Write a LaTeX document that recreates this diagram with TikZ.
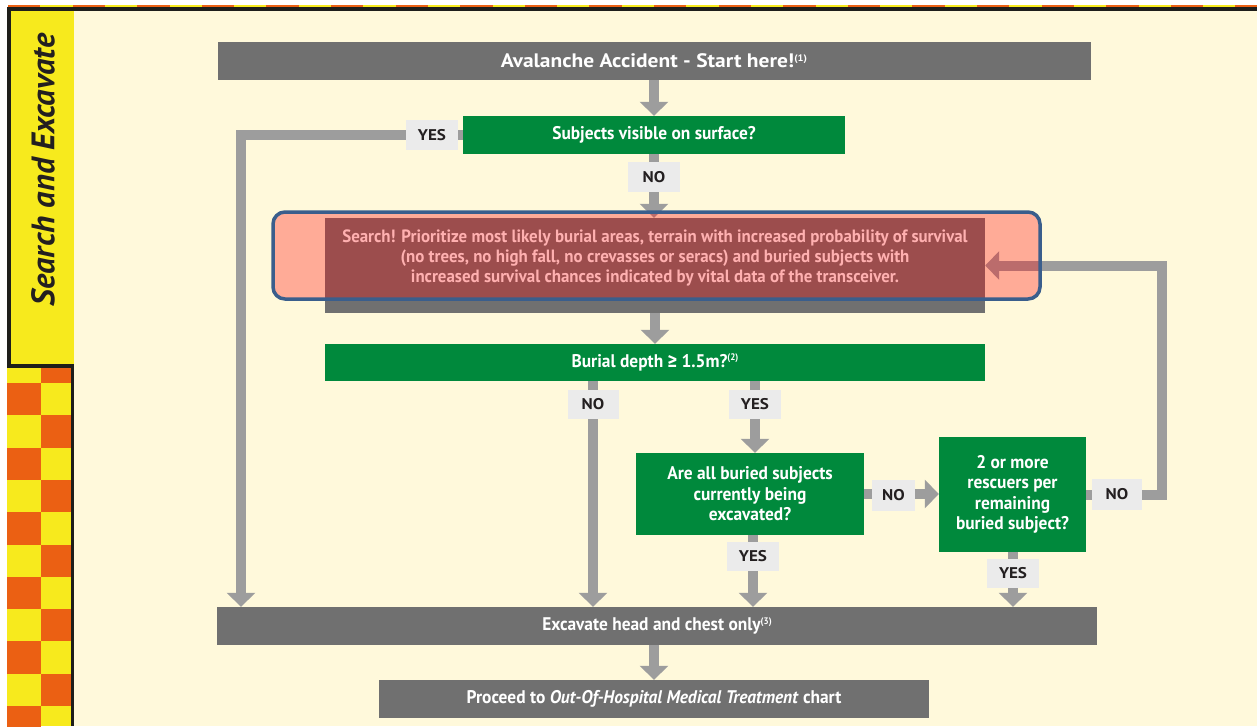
\documentclass[tikz,border=0pt]{standalone}
\usepackage{fontspec}
\setmainfont{PT Sans}
\newfontfamily\cond{PT Sans}[FakeStretch=0.95]
\newfontfamily\wide{PT Sans}[FakeStretch=1.1]
\newfontfamily\symfont{Fira Sans}
\usetikzlibrary{arrows.meta}
\definecolor{cream}{HTML}{FFF9DB}
\definecolor{boxgrey}{HTML}{707070}
\definecolor{argrey}{HTML}{9D9D9D}
\definecolor{okgreen}{HTML}{00893C}
\definecolor{lblgrey}{HTML}{EBEBEB}
\definecolor{sideyellow}{HTML}{F7EA1D}
\definecolor{sideorange}{HTML}{EB6013}
\definecolor{bordblue}{HTML}{3A5E8C}
\definecolor{txtdark}{HTML}{231F20}
\definecolor{linedark}{HTML}{1E1E1A}
\pgfdeclarelayer{back}
\pgfdeclarelayer{mid}
\pgfdeclarelayer{front}
\pgfsetlayers{back,mid,main,front}
\newcommand{\sups}[1]{\raisebox{0.7ex}{\fontsize{9.5}{9.5}\selectfont(#1)}}
\tikzset{
  box/.style={draw=none, inner sep=0pt, text=white, align=center,
    font=\cond\bfseries\fontsize{18.3}{20.5}\selectfont},
  greybox/.style={box, fill=boxgrey},
  greenbox/.style={box, fill=okgreen},
  lbl/.style={fill=lblgrey, inner sep=0pt, text=txtdark,
    font=\wide\bfseries\fontsize{15.5}{15.5}\selectfont},
  arr/.style={draw=argrey, line width=10pt, line join=miter,
    -{Triangle[width=28pt,length=14pt]}}
}
\begin{document}
\begin{tikzpicture}[x=1pt,y=-1pt]
\useasboundingbox (0,0) rectangle (1257,726);
\begin{pgfonlayer}{back}
  \fill[white] (0,0) rectangle (1257,726);
  \fill[cream] (74,10) rectangle (1257,726);
  % top stripe
  \fill[sideyellow] (8,4.5) rectangle (1257,7.5);
  \foreach \i in {0,...,19} {
    \fill[sideorange] ({8+64.6*\i},4.5) rectangle ({8+64.6*\i+32.3},7.5);
  }
  \fill[linedark] (7,7) rectangle (1257,10.5);
  % sidebar
  \fill[sideyellow] (10.7,10.5) rectangle (74,364);
  \fill[linedark] (7,7) rectangle (10.7,368);
  \fill[linedark] (7,364) rectangle (74,368);
  % checker
  \begin{scope}
    \clip (7,368) rectangle (71,726);
    \fill[sideyellow] (7,368) rectangle (71,726);
    \foreach \k in {-1,...,10} {
      \pgfmathsetmacro{\ya}{383+32.3*\k}
      \pgfmathsetmacro{\yb}{383+32.3*(\k+1)}
      \ifodd\k
        \fill[sideorange] (41,\ya) rectangle (71,\yb);
      \else
        \fill[sideorange] (7,\ya) rectangle (41,\yb);
      \fi
    }
  \end{scope}
  \fill[linedark] (71,364) rectangle (74,726);
  \node[rotate=90, text=txtdark, font=\bfseries\itshape\fontsize{32.5}{32.5}\selectfont]
    (sidetitle) at (43,170) {Search and Excavate};
\end{pgfonlayer}

% main boxes
\node[greybox, minimum width=873pt, minimum height=38pt,
      font=\wide\bfseries\fontsize{19.5}{22}\selectfont] (start) at (654,61)
  {Avalanche Accident - Start here!\sups{1}};
\node[greenbox, minimum width=382pt, minimum height=38pt] (q1) at (654,135)
  {Subjects visible on surface?};
\node[greybox, minimum width=660pt, minimum height=95pt] (search) at (655,265.5) {};
\node[box, font=\cond\bfseries\fontsize{17.8}{20.2}\selectfont] (searchtxt) at (655,258)
  {Search! Prioritize most likely burial areas, terrain with increased probability of survival\\
   (no trees, no high fall, no crevasses or seracs) and buried subjects with\\
   increased survival chances indicated by vital data of the transceiver.};
\node[greenbox, minimum width=660pt, minimum height=37pt] (burial) at (655,362.5)
  {Burial depth {\symfont\bfseries\char"2265}\ 1.5m?\sups{2}};
\node[greenbox, minimum width=228pt, minimum height=82pt] (q2) at (750,494)
  {Are all buried subjects\\currently being\\excavated?};
\node[greenbox, minimum width=147pt, minimum height=115pt] (q3) at (1012.5,494.5)
  {2 or more\\rescuers per\\remaining\\buried subject?};
\node[greybox, minimum width=880pt, minimum height=38pt] (excav) at (657,626)
  {Excavate head and chest only\sups{3}};
\node[greybox, minimum width=550pt, minimum height=38pt] (proceed) at (654,699)
  {Proceed to \textit{Out-Of-Hospital Medical Treatment} chart};

% labels
\node[lbl, minimum width=52pt, minimum height=30pt] (yes1) at (432,135) {YES};
\node[lbl, minimum width=52pt, minimum height=30pt] (no1) at (654,177) {NO};
\node[lbl, minimum width=51pt, minimum height=29pt] (no2) at (593,404) {NO};
\node[lbl, minimum width=52pt, minimum height=29pt] (yes2) at (755,404) {YES};
\node[lbl, minimum width=43pt, minimum height=31pt] (no3) at (893.5,495.5) {NO};
\node[lbl, minimum width=50pt, minimum height=31pt] (no4) at (1117,494.5) {NO};
\node[lbl, minimum width=52pt, minimum height=29pt] (yes3) at (753,556.5) {YES};
\node[lbl, minimum width=52pt, minimum height=29pt] (yes4) at (1013,573.5) {YES};

\coordinate (lcol) at (241,135);
\coordinate (rcol) at (1162,494.5);

\begin{pgfonlayer}{mid}
  \draw[arr] (start.south) -- (q1.north);
  \draw[arr] (q1.south) -- (q1.south |- search.north);
  \draw[arr] (q1.west) -- (lcol) -- (lcol |- excav.north);
  \draw[arr] (search.south) -- (search.south |- burial.north);
  \draw[arr] (no2 |- burial.south) -- (no2 |- excav.north);
  \draw[arr] (yes2 |- burial.south) -- (yes2 |- q2.north);
  \draw[arr] (q2.east) -- (q2.east -| q3.west);
  \draw[arr] (yes3 |- q2.south) -- (yes3 |- excav.north);
  \draw[arr] (yes4 |- q3.south) -- (yes4 |- excav.north);
  \draw[arr] (q3.east) -- (rcol) -- (rcol |- search.east) -- (search.east);
  \draw[arr] (proceed.north |- excav.south) -- (proceed.north);
\end{pgfonlayer}

\begin{pgfonlayer}{front}
  \path[fill=red, fill opacity=0.31, draw=bordblue, line width=3.5pt,
        rounded corners=12pt] (273,212) rectangle (1040,299);
\end{pgfonlayer}
\end{tikzpicture}
\end{document}
